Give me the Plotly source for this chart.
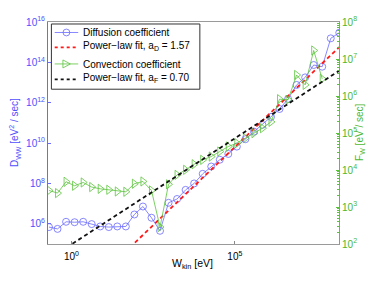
import plotly.graph_objects as go

# Kinetic energy grid W_kin [eV]
w_kin = [0.206, 0.376, 0.686, 1.25, 2.29, 4.17, 7.60, 13.9, 25.3, 46.2,
         84.3, 154, 281, 513, 935, 1706, 3112, 5677, 10370, 18920,
         34510, 62950, 114800, 209500, 382800, 698200, 1.274e6, 2.323e6, 4.236e6, 7.727e6,
         1.413e7, 2.576e7, 4.699e7, 8.570e7, 1.563e8]

# Diffusion coefficient D_WW [eV^2/sec]
d_ww = [6.9e5, 5.6e5, 1.26e6, 1.2e6, 1.26e6, 9.7e5, 7.4e5, 6.9e5, 7.4e5, 7.4e5,
        2.9e6, 7.2e6, 2.0e6, 4.5e5, 1.1e7, 1.7e7, 4.8e7, 1.0e8, 3.0e8, 6.9e8,
        1.5e9, 2.9e9, 6.7e9, 1.56e10, 3.7e10, 8.0e10, 2.0e11, 4.9e11, 1.55e12, 7.6e12,
        1.8e13, 7.4e13, 6.1e13, 1.55e15, 2.95e15]

# Convection coefficient F_W [eV/sec]
f_w = [2.8e3, 2.38e3, 4.8e3, 3.75e3, 4.6e3, 3.46e3, 3.1e3, 2.92e3, 2.63e3, 2.58e3,
       4.25e3, 4.9e3, 2.8e3, 288, 4.1e3, 7.4e3, 1.01e4, 1.43e4, 1.88e4, 2.31e4,
       3.16e4, 4.31e4, 5.3e4, 7.3e4, 9.9e4, 1.35e5, 2.0e5, 8.2e5, 7.9e5, 3.7e6,
       2.0e6, 1.7e7, 2.9e6]

# Power-law fits (prefactor, exponent as drawn)
fit_d_pref, fit_d_exp = 10 ** 2.057, 1.55
fit_f_pref, fit_f_exp = 10 ** 1.99, 0.573
label_a_d = "1.57"
label_a_f = "0.70"

fit_d = [fit_d_pref * w ** fit_d_exp for w in w_kin]
fit_f = [fit_f_pref * w ** fit_f_exp for w in w_kin]

left_ticks = [1e6, 1e8, 1e10, 1e12, 1e14, 1e16]
left_text = ["10<sup>6</sup>", "10<sup>8</sup>", "10<sup>10</sup>", "10<sup>12</sup>",
             "10<sup>14</sup>", "10<sup>16</sup>"]
right_ticks = [1e2, 1e3, 1e4, 1e5, 1e6, 1e7, 1e8]
right_text = ["10<sup>%d</sup>" % n for n in range(2, 9)]
x_ticks = [1, 1e5]
x_text = ["10<sup>0</sup>", "10<sup>5</sup>"]

legend_labels = ["Diffusion coefficient",
                 "Power\u2212law fit, a<sub>D</sub> = " + label_a_d,
                 "Convection coefficient",
                 "Power\u2212law fit, a<sub>F</sub> = " + label_a_f]

BLUE = "#6a6aff"
BLUE_TXT = "#4f4fff"
GREEN = "#5cc43c"
GREEN_TXT = "#4cb82e"
RED = "#ff1a1a"
BLACK = "#111111"
FONT = "Liberation Sans, Arial, sans-serif"

W, H = 374, 281
# plot area in screen pixels
pl, pr, pt, pb = 48.3, 339.0, 22.0, 244.3


def px(x):
    return (x - pl) / (pr - pl)


def py(y):
    return 1 - (y - pt) / (pb - pt)


fig = go.Figure()
fig.add_trace(go.Scatter(
    x=w_kin, y=d_ww, mode="lines+markers", name=legend_labels[0],
    line=dict(color=BLUE, width=0.8),
    marker=dict(symbol="circle-open", size=7, color=BLUE, line=dict(width=0.8)),
    yaxis="y"))
fig.add_trace(go.Scatter(
    x=w_kin, y=fit_d, mode="lines", name=legend_labels[1],
    line=dict(color=RED, width=1.8, dash="4px,3px"), yaxis="y"))
fig.add_trace(go.Scatter(
    x=w_kin[:len(f_w)], y=f_w, mode="lines+markers", name=legend_labels[2],
    line=dict(color=GREEN, width=0.8),
    marker=dict(symbol="triangle-right-open", size=8, color=GREEN, line=dict(width=0.8)),
    yaxis="y2"))
fig.add_trace(go.Scatter(
    x=w_kin, y=fit_f, mode="lines", name=legend_labels[3],
    line=dict(color=BLACK, width=1.8, dash="4px,3px"), yaxis="y2"))

# ---- legend box drawn by hand (screen pixel positions) ----
shapes = [dict(type="rect", xref="paper", yref="paper",
               x0=px(51.7), x1=px(200), y0=py(24), y1=py(89.3),
               line=dict(color="#333333", width=1), fillcolor="white", layer="above")]
entry_line_y = [32.5, 47.5, 64.0, 79.5]
entry_text_y = [33.0, 46.5, 64.5, 78.0]
entry_colors = [BLUE, RED, GREEN, BLACK]
entry_dash = [None, "3px,3px", None, "3px,3px"]
entry_width = [0.8, 1.8, 0.8, 1.8]
for ly, c, d, wd in zip(entry_line_y, entry_colors, entry_dash, entry_width):
    ln = dict(color=c, width=wd)
    if d:
        ln["dash"] = d
    shapes.append(dict(type="line", xref="paper", yref="paper",
                       x0=px(55), x1=px(78.5), y0=py(ly), y1=py(ly),
                       line=ln, layer="above"))
# marker samples
shapes.append(dict(type="circle", xref="paper", yref="paper",
                   x0=px(63.3), x1=px(70.1), y0=py(29.1), y1=py(35.9),
                   line=dict(color=BLUE, width=0.8), fillcolor="rgba(0,0,0,0)", layer="above"))
shapes.append(dict(type="path", xref="paper", yref="paper",
                   path="M {a},{b} L {a},{c} L {d},{e} Z".format(
                       a=px(63.2), b=py(60.0), c=py(68.0), d=px(70.6), e=py(64.0)),
                   line=dict(color=GREEN, width=0.8), fillcolor="rgba(0,0,0,0)", layer="above"))

annotations = []
for ty, t in zip(entry_text_y, legend_labels):
    annotations.append(dict(text=t, x=px(81), y=py(ty), xref="paper", yref="paper",
                            xanchor="left", yanchor="middle", showarrow=False,
                            font=dict(size=10, color="black")))
annotations += [
    dict(text="D<sub>WW</sub> [eV<sup>2</sup> / sec]", textangle=-90,
         x=px(7), y=py(133), xref="paper", yref="paper", showarrow=False,
         font=dict(size=10, color=BLUE_TXT)),
    dict(text="F<sub>W</sub> [eV / sec]", textangle=-90,
         x=px(368), y=py(133), xref="paper", yref="paper", showarrow=False,
         font=dict(size=10, color=GREEN_TXT)),
    dict(text="W<sub>kin</sub> [eV]", x=px(193), y=py(273),
         xref="paper", yref="paper", showarrow=False,
         font=dict(size=10.5, color="black")),
]

fig.update_layout(
    width=W, height=H,
    margin=dict(l=pl, r=W - pr, t=pt, b=H - pb, pad=0),
    paper_bgcolor="white", plot_bgcolor="white",
    font=dict(family=FONT, size=10, color="black"),
    showlegend=False,
    shapes=shapes,
    annotations=annotations,
    xaxis=dict(type="log", range=[-0.7165, 8.185], tickvals=x_ticks, ticktext=x_text,
               ticks="inside", ticklen=3, tickcolor="#888888",
               showline=True, linecolor="#9a9a9a", linewidth=1, mirror=True,
               showgrid=False, zeroline=False, ticklabelstandoff=3,
               tickfont=dict(size=10, color="black")),
    yaxis=dict(type="log", range=[5, 16], tickvals=left_ticks, ticktext=left_text,
               ticks="inside", ticklen=3, tickcolor=BLUE,
               showline=True, linecolor=BLUE, linewidth=1,
               showgrid=False, zeroline=False,
               tickfont=dict(size=10, color=BLUE_TXT)),
    yaxis2=dict(type="log", range=[2, 8], tickvals=right_ticks, ticktext=right_text,
                overlaying="y", side="right",
                ticks="inside", ticklen=3, tickcolor=GREEN,
                minor=dict(ticks="inside", ticklen=2, tickcolor=GREEN, dtick="D1"),
                showline=True, linecolor=GREEN, linewidth=1,
                showgrid=False, zeroline=False,
                tickfont=dict(size=10, color=GREEN_TXT)),
)

# place the figure at the top-left corner of the page (no default body margin)
fig.write_html("out.html",
               config={"displayModeBar": False},
               post_script="document.body.style.margin='0px';"
                           "document.body.style.overflow='hidden';")
